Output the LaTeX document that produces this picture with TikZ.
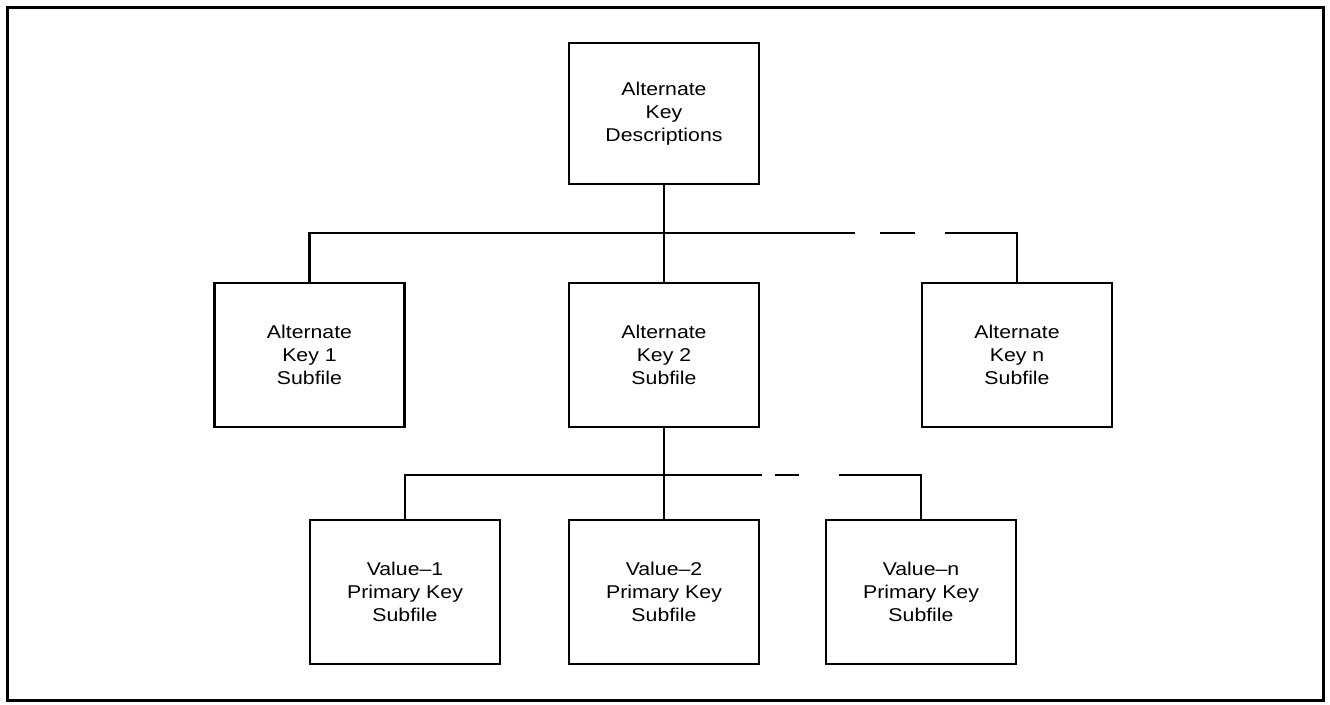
\documentclass[tikz,border=0pt]{standalone}
\usepackage{fontspec}
\setmainfont{Liberation Sans}[FakeStretch=1.15]
\begin{document}
\begin{tikzpicture}[x=1pt,y=-1pt,
        box/.style={draw,line width=2.5pt,minimum width=190pt,minimum height=144pt,
                    align=center,inner sep=0pt,font=\fontsize{18.5}{23}\selectfont},
        link/.style={line width=2.5pt}]
    \useasboundingbox (0,0) rectangle (1330,704);
    \draw[line width=3pt] (7,7) rectangle (1323,700);
    %% top
    \node[box,minimum height=141pt] (desc) at (664,113.5) {Alternate\\Key\\Descriptions};
    %% key subfiles
    \node[box] (alt1) at (309.5,355) {Alternate\\Key 1\\Subfile};
    \node[box] (alt2) at (664,355) {Alternate\\Key 2\\Subfile};
    \node[box] (altn) at (1017,355) {Alternate\\Key n\\Subfile};
    %% value subfiles
    \node[box] (val1) at (405,592) {Value--1\\Primary Key\\Subfile};
    \node[box] (val2) at (664,592) {Value--2\\Primary Key\\Subfile};
    \node[box] (valn) at (921,592) {Value--n\\Primary Key\\Subfile};
    %% upper bus
    \coordinate (u1) at (855,233);
    \coordinate (u2) at (880,233);
    \coordinate (u3) at (915,233);
    \coordinate (u4) at (945,233);
    \draw[link] (desc.south) -- (alt2.north);
    \draw[link] (alt1.north) |- (u1);
    \draw[link] (u2) -- (u3);
    \draw[link] (u4) -| (altn.north);
    %% lower bus
    \coordinate (l1) at (762,475);
    \coordinate (l2) at (775,475);
    \coordinate (l3) at (799,475);
    \coordinate (l4) at (839,475);
    \draw[link] (alt2.south) -- (val2.north);
    \draw[link] (val1.north) |- (l1);
    \draw[link] (l2) -- (l3);
    \draw[link] (l4) -| (valn.north);
\end{tikzpicture}
\end{document}
